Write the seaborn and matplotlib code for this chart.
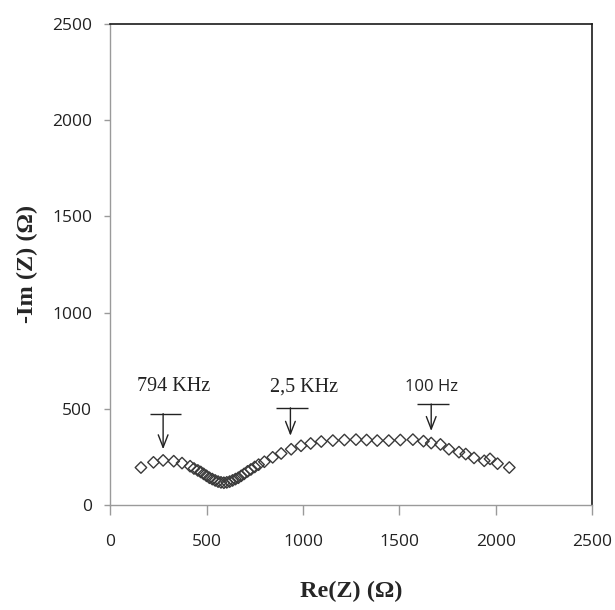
import matplotlib
matplotlib.use("Agg")
import matplotlib.pyplot as plt
import seaborn as sns
import pandas as pd

# Nyquist data: real and (negative) imaginary impedance, ohms
re_z = [160, 225, 275, 330, 373, 415,
        435, 455, 470, 485, 500, 515, 530, 545, 560, 575, 590, 605, 620,
        635, 650, 665, 680, 695, 713, 730, 750, 770, 800, 843, 887, 939,
        990, 1040, 1095, 1155, 1215, 1275, 1330, 1385, 1445, 1505, 1570,
        1625, 1665, 1713, 1757, 1809, 1844, 1887, 1940, 1970, 2009, 2070]
im_z = [195, 222, 232, 228, 218, 202,
        190, 180, 172, 162, 152, 142, 135, 128, 122, 118, 116, 118, 122,
        128, 135, 142, 152, 162, 175, 185, 198, 210, 225, 248, 268, 290,
        308, 320, 330, 335, 338, 340, 338, 335, 335, 338, 340,
        332, 322, 315, 290, 275, 265, 245, 230, 240, 215, 195]

# Frequency markers: label, label position, bar span, arrow tip
freq_labels = ["794 KHz", "2,5 KHz", "100 Hz"]
label_x = [332, 1006, 1665]
label_y = [590, 590, 590]
bar_x0 = [205, 860, 1590]
bar_x1 = [370, 1025, 1755]
bar_y = [475, 505, 525]
tip_x = [275, 935, 1665]
tip_y = [290, 360, 385]
label_fonts = [["Liberation Serif"], ["Liberation Serif"], ["Open Sans", "DejaVu Sans"]]
label_sizes = [14.5, 14.5, 12]

df = pd.DataFrame({"Re": re_z, "Im": im_z})

sns.set_style("white")
fig = plt.figure(figsize=(6.15, 6.10), dpi=100)
ax = fig.add_axes([0.179, 0.172, 0.784, 0.789])

sns.scatterplot(data=df, x="Re", y="Im", marker="D", s=34,
                facecolor="none", edgecolor="#3a3a3a", linewidth=1.0, ax=ax)

for lab, lx, ly, x0, x1, by, tx, ty, fam, fs in zip(freq_labels, label_x, label_y,
                                                    bar_x0, bar_x1, bar_y,
                                                    tip_x, tip_y, label_fonts,
                                                    label_sizes):
    ax.text(lx, ly, lab, ha="center", va="baseline", fontsize=fs,
            family=fam, color="#222222")
    ax.hlines(by, x0, x1, color="#222222", linewidth=1.0)
    ax.annotate("", xy=(tx, ty), xytext=(tx, by),
                arrowprops=dict(arrowstyle="->,head_length=0.9,head_width=0.35",
                                color="#222222", linewidth=1.0,
                                shrinkA=0, shrinkB=0))

ax.set_xlim(0, 2500)
ax.set_ylim(0, 2500)
ax.set_xticks([0, 500, 1000, 1500, 2000, 2500])
ax.set_yticks([0, 500, 1000, 1500, 2000, 2500])

for side in ("left", "bottom"):
    ax.spines[side].set_color("#9a9a9a")
    ax.spines[side].set_linewidth(1.0)
for side in ("top", "right"):
    ax.spines[side].set_color("#1a1a1a")
    ax.spines[side].set_linewidth(1.2)
    ax.spines[side].set_visible(True)

ax.tick_params(axis="x", direction="out", length=7, width=1, color="#9a9a9a",
               pad=14, labelsize=12.5, labelcolor="#222222", bottom=True)
ax.tick_params(axis="y", direction="out", length=4, width=1, color="#9a9a9a",
               pad=9, labelsize=12.5, labelcolor="#222222", left=True)
for t in ax.get_xticklabels() + ax.get_yticklabels():
    t.set_family(["Open Sans", "DejaVu Sans"])

ax.set_xlabel("Re(Z) (Ω)", family=["Liberation Serif"], fontweight="bold",
              fontsize=17.5, labelpad=22)
ax.set_ylabel("-Im (Z) (Ω)", family=["Liberation Serif"], fontweight="bold",
              fontsize=17.5, labelpad=10)

fig.savefig("out.png", dpi=100)
